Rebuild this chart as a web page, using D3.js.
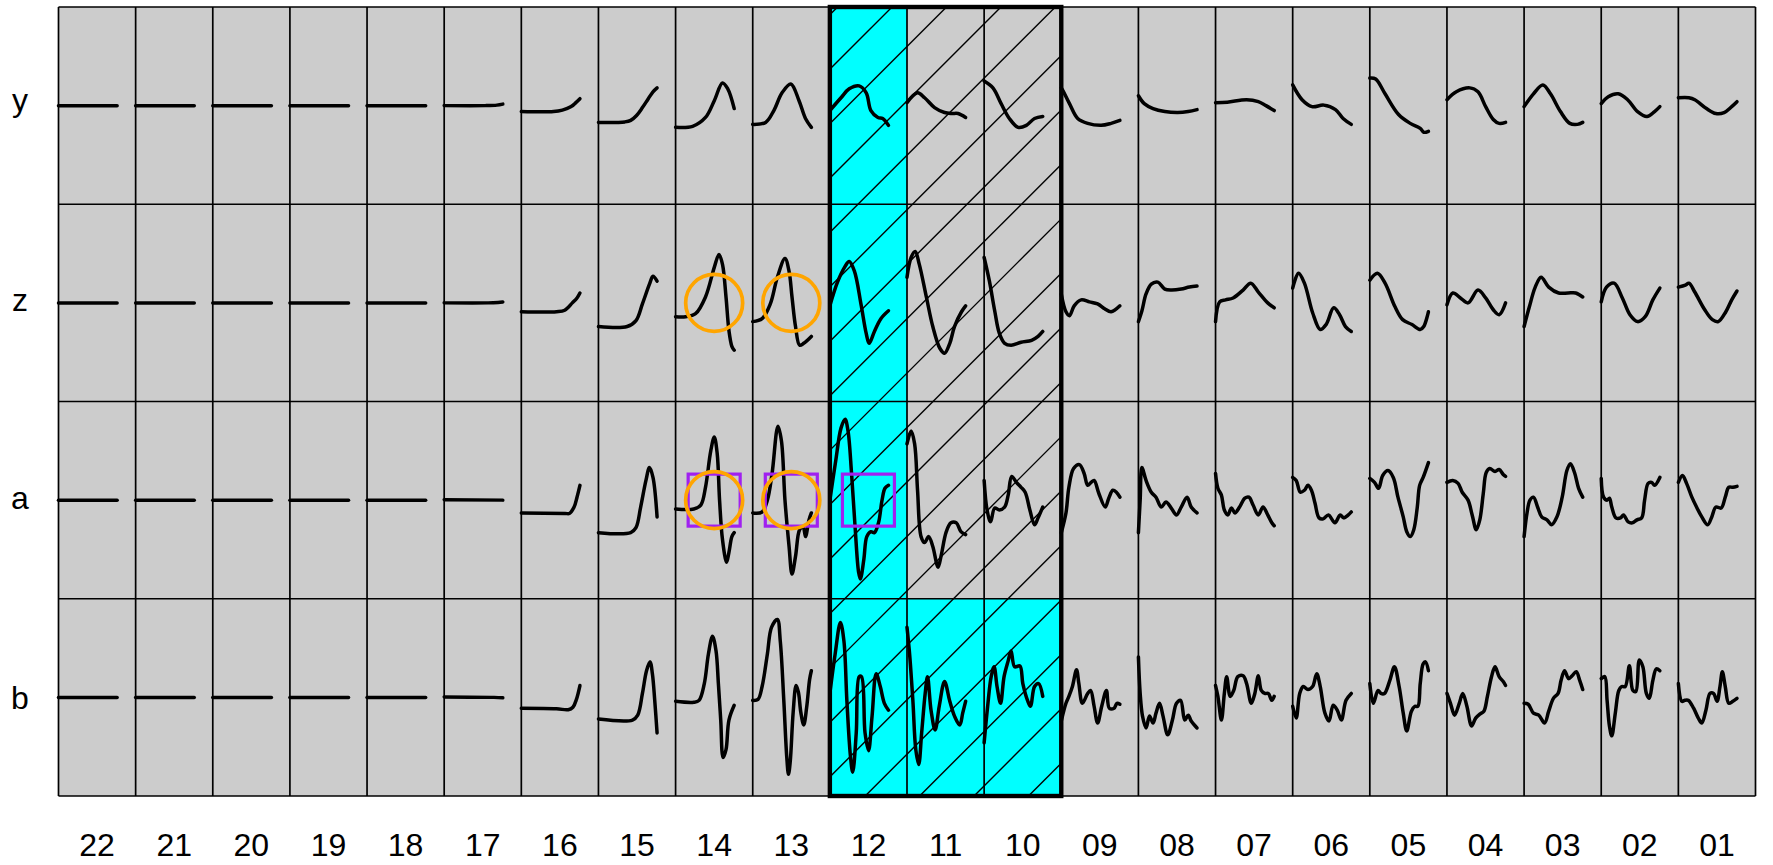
<!DOCTYPE html>
<html><head><meta charset="utf-8">
<script src="https://cdn.jsdelivr.net/npm/d3@7"></script>
<style>html,body{margin:0;padding:0;background:#fff;} svg{display:block}</style>
</head><body>
<svg id="chart" width="1773" height="865"></svg>
<script>
const columns = ["22","21","20","19","18","17","16","15","14","13","12","11","10","09","08","07","06","05","04","03","02","01"];
const rows = ["y","z","a","b"];

// each series: [time (0-100), value] pairs
const flat = [[0,0],[100,0]];
const seriesY = [
  flat, flat, flat, flat, flat,
  [[0,0],[70,0],[90,0.5],[100,1.5]],
  [[0,-6],[55,-6],[70,-4.5],[85,-1],[93,3],[100,7]],
  [[0,-17],[45,-16.5],[55,-15],[65,-10],[75,-2],[85,7],[93,14],[100,18]],
  [[0,-22],[29,-21],[51,-12],[66,5],[80,23],[89,17],[100,-3]],
  [[0,-19],[22,-17],[36,-5],[50,13],[65,22],[79,5],[90,-13],[100,-22]],
  [[0,-5],[19,8],[33,17],[50,20],[62,13],[70,-5],[82,-12],[90,-13],[100,-20]],
  [[0,3],[18,13],[30,8],[47,-2],[64,-7],[76,-8],[87,-8],[100,-12]],
  [[0,25],[15,18],[29,2],[43,-13],[58,-22],[72,-20],[86,-13],[100,-11]],
  [[0,18],[3,15],[14,2],[28,-13],[45,-18],[68,-20],[85,-18],[100,-15]],
  [[0,10],[10,2],[25,-3],[45,-6],[67,-7],[85,-6],[100,-4]],
  [[0,3],[20,3.5],[53,6],[73,4],[86,0],[100,-5]],
  [[0,21],[16,6],[33,-1],[53,0.5],[73,-4],[86,-13],[100,-19]],
  [[0,28],[10,27],[26,12],[49,-9],[69,-18],[86,-23],[92,-27],[100,-26]],
  [[0,6],[16,14],[39,18],[53,14],[66,-1],[79,-14],[89,-18],[100,-17]],
  [[0,-1],[16,12],[32,21],[45,12],[62,-6],[78,-18],[91,-19],[100,-17]],
  [[0,2],[12,9],[29,12],[45,6],[62,-6],[78,-11],[91,-6],[100,-1]],
  [[0,8],[18,8],[28,6],[48,-3],[64,-8],[78,-7],[91,-1],[100,4]]
];
const seriesZ = [
  flat, flat, flat, flat, flat,
  [[0,0],[75,0],[92,0.5],[100,1]],
  [[0,-9],[60,-9],[74,-7.5],[87,0],[95,5],[100,10]],
  [[0,-24],[49,-24],[64,-18],[75,-1],[87,19],[93,27],[100,22]],
  [[0,-14],[17,-14],[34,-11],[51,6],[66,36],[74,49],[80,39],[86,6],[91,-28],[96,-44],[100,-48]],
  [[0,-19],[16,-16],[30,-1],[42,26],[55,45],[62,32],[67,6],[73,-24],[80,-43],[87,-41],[100,-34]],
  [[0,-3],[13,21],[25,36],[33,42],[42,32],[53,-1],[62,-31],[67,-41],[76,-29],[87,-16],[100,-8]],
  [[0,26],[7,46],[14,52],[21,39],[33,6],[44,-24],[56,-46],[64,-51],[73,-41],[81,-24],[93,-9],[100,-3]],
  [[0,46],[9,22],[18,-8],[26,-31],[35,-41],[46,-43],[63,-40],[81,-38],[92,-34],[100,-29]],
  [[0,9],[8,-9],[14,-13],[22,-3],[34,3],[48,1],[62,-1],[74,-6],[85,-9],[100,-3]],
  [[0,-19],[6,-8],[13,9],[22,19],[33,21],[45,14],[56,13],[73,14],[87,16],[100,17]],
  [[0,-19],[7,1],[17,3],[30,5],[47,13],[60,20],[73,11],[89,0],[100,-5]],
  [[0,15],[10,30],[20,20],[34,-10],[47,-27],[57,-22],[70,-5],[80,-12],[90,-24],[100,-29]],
  [[0,23],[13,30],[26,20],[43,-4],[56,-17],[72,-22],[86,-27],[92,-24],[100,-9]],
  [[0,-2],[10,10],[23,5],[36,0],[53,13],[66,5],[79,-7],[89,-12],[100,0]],
  [[0,-24],[9,-4],[19,16],[29,26],[42,16],[59,10],[75,10],[88,10],[100,6]],
  [[0,1],[9,16],[22,20],[36,5],[49,-12],[62,-19],[75,-14],[88,3],[100,15]],
  [[0,16],[12,18],[18,20],[28,11],[45,-7],[58,-17],[68,-19],[81,-9],[91,3],[100,12]]
];
const seriesA = [
  flat, flat, flat, flat, flat,
  [[0,0.5],[100,0]],
  [[0,-13],[75,-13.5],[82,-13.5],[90,-7],[95,3],[100,15]],
  [[0,-33],[55,-33],[64,-28],[72,-7],[81,20],[87,33],[93,23],[100,-17]],
  [[0,-9],[31,-9],[43,-5],[51,13],[60,50],[66,64],[71,47],[75,0],[80,-40],[87,-63],[91,-53],[96,-37],[100,-33]],
  [[0,-13],[16,-12],[25,0],[33,27],[43,75],[49,60],[55,0],[62,-47],[67,-75],[73,-57],[80,-30],[86,-27],[90,-37],[96,-20],[100,-13]],
  [[0,0],[10,40],[19,73],[26,82],[31,70],[37,27],[43,-27],[49,-73],[52,-80],[58,-60],[63,-37],[70,-32],[76,-33],[83,-23],[89,0],[94,12],[100,15]],
  [[0,57],[7,70],[13,57],[18,10],[24,-37],[30,-43],[37,-37],[44,-47],[53,-68],[58,-57],[67,-32],[75,-23],[84,-23],[92,-32],[100,-35]],
  [[0,20],[5,-10],[11,-22],[18,-8],[26,-10],[35,-7],[41,5],[47,24],[55,18],[63,13],[70,8],[78,-10],[86,-25],[92,-18],[100,-7]],
  [[0,-33],[8,-13],[13,13],[21,32],[31,36],[39,27],[45,15],[51,18],[56,20],[64,7],[75,-7],[81,2],[88,10],[94,8],[100,3]],
  [[0,-33],[3,0],[6,33],[13,20],[22,8],[30,3],[39,-7],[47,-2],[56,-8],[65,-15],[73,-7],[83,3],[90,-7],[100,-13]],
  [[0,27],[4,12],[10,5],[15,-10],[21,-15],[27,-8],[33,-13],[41,-7],[50,2],[57,3],[64,-5],[73,-15],[81,-7],[89,-15],[96,-23],[100,-26]],
  [[0,23],[6,20],[13,8],[20,10],[26,15],[32,10],[38,-3],[45,-18],[52,-19],[61,-15],[72,-23],[81,-15],[87,-18],[95,-15],[100,-12]],
  [[0,22],[8,18],[15,12],[22,25],[31,30],[40,23],[48,3],[57,-17],[63,-32],[69,-37],[75,-30],[81,-7],[85,15],[91,23],[100,38]],
  [[0,18],[10,20],[19,17],[26,8],[36,0],[43,-15],[50,-30],[56,-20],[62,7],[67,28],[73,32],[82,29],[89,31],[96,26],[100,24]],
  [[0,-37],[5,-13],[10,0],[16,3],[23,-7],[30,-17],[39,-20],[47,-25],[56,-17],[65,3],[73,30],[79,37],[86,28],[93,12],[100,3]],
  [[0,22],[4,3],[10,0],[14,2],[18,-7],[25,-18],[33,-18],[38,-15],[46,-22],[53,-23],[61,-20],[69,-18],[74,0],[80,17],[86,18],[91,15],[100,23]],
  [[0,18],[7,25],[14,17],[23,3],[31,-7],[40,-17],[50,-25],[57,-17],[64,-7],[73,-8],[80,3],[86,13],[93,13],[100,14]]
];
const seriesB = [
  flat, flat, flat, flat, flat,
  [[0,0.5],[85,0],[100,-0.5]],
  [[0,-11],[60,-11.5],[80,-12.5],[88,-10],[94,-2],[100,12]],
  [[0,-22],[58,-23],[67,-18],[75,4],[82,27],[88,36],[92,24],[96,-3],[100,-36]],
  [[0,-4],[31,-5],[40,-3],[49,14],[56,44],[63,62],[69,47],[73,14],[77,-23],[81,-61],[86,-53],[91,-23],[100,-8]],
  [[0,-3],[9,-2],[16,11],[25,44],[32,71],[42,79],[47,57],[53,-3],[58,-60],[61,-78],[64,-65],[69,-15],[74,12],[78,5],[82,-15],[87,-28],[92,-10],[97,18],[100,27]],
  [[0,4],[9,44],[18,76],[24,57],[29,-3],[35,-59],[39,-76],[45,-36],[50,21],[54,21],[60,-36],[66,-54],[72,-19],[79,24],[86,11],[93,-6],[100,-13]],
  [[0,71],[4,47],[10,-3],[15,-53],[20,-68],[25,-36],[31,4],[35,21],[41,-13],[48,-33],[55,-9],[64,16],[73,-4],[81,-19],[90,-28],[95,-16],[100,-4]],
  [[0,-46],[6,-9],[12,21],[17,31],[22,11],[28,-6],[34,21],[41,37],[46,47],[52,31],[61,32],[66,14],[74,-3],[79,-9],[86,11],[93,14],[100,1]],
  [[0,-24],[8,-6],[13,1],[19,11],[26,28],[30,14],[36,-6],[45,4],[50,7],[56,-9],[62,-26],[69,-9],[77,7],[82,-11],[90,-11],[95,-6],[100,-7]],
  [[0,41],[3,4],[7,-19],[13,-31],[19,-19],[25,-26],[30,-16],[36,-6],[42,-19],[50,-38],[58,-23],[65,-6],[72,-3],[79,-23],[85,-18],[90,-24],[100,-31]],
  [[0,12],[4,1],[10,-23],[15,4],[19,21],[25,1],[31,7],[38,21],[47,22],[53,14],[61,-6],[67,4],[73,22],[78,7],[84,4],[90,4],[96,-3],[100,1]],
  [[0,-9],[6,-21],[12,4],[18,11],[26,8],[34,11],[41,24],[47,11],[55,-16],[62,-24],[69,-8],[76,-13],[83,-23],[91,-3],[100,4]],
  [[0,14],[6,-6],[14,7],[19,4],[25,4],[34,17],[42,31],[50,11],[57,-16],[63,-34],[71,-14],[77,-9],[82,-9],[86,14],[91,34],[95,36],[100,27]],
  [[0,4],[6,-6],[13,-18],[21,-6],[27,4],[34,-9],[42,-29],[49,-21],[56,-17],[63,-14],[69,1],[76,21],[82,31],[89,21],[96,16],[100,12]],
  [[0,-6],[7,-7],[16,-16],[25,-18],[35,-26],[42,-14],[50,-1],[58,4],[63,17],[69,27],[76,19],[82,22],[89,26],[95,17],[100,8]],
  [[0,19],[6,21],[10,-3],[14,-29],[18,-39],[24,-16],[30,7],[35,11],[41,11],[48,32],[54,7],[59,6],[65,38],[71,31],[77,4],[82,-1],[88,17],[94,29],[100,27]],
  [[0,14],[6,-4],[11,-3],[17,-3],[26,-11],[34,-21],[40,-26],[47,-13],[54,4],[60,4],[66,-4],[71,11],[75,26],[80,11],[86,-6],[93,-4],[100,-1]]
];
const seriesByRow = {y: seriesY, z: seriesZ, a: seriesA, b: seriesB};

const cyanCells = [["12","y"],["12","z"],["12","a"],["12","b"],["11","b"],["10","b"]];
const hatchColumns = ["12","11","10"];
const circleCells = [["14","z"],["13","z"],["14","a"],["13","a"]];
const squareCells = [["14","a"],["13","a"],["12","a"]];

// ---------- layout ----------
const svg = d3.select("#chart");
const x = d3.scaleBand().domain(columns).range([58.5, 1755.5]);
const yb = d3.scaleBand().domain(rows).range([7, 796]);
const cw = x.bandwidth(), rh = yb.bandwidth();
const FONT = "Liberation Sans, Arial, Helvetica, sans-serif";

const cells = [];
rows.forEach(r => columns.forEach(c => cells.push({c, r})));
const isCyan = (c, r) => cyanCells.some(d => d[0] === c && d[1] === r);

// cell fills
svg.append("g").selectAll("rect").data(cells).join("rect")
  .attr("x", d => x(d.c)).attr("y", d => yb(d.r))
  .attr("width", cw).attr("height", rh)
  .attr("fill", d => isCyan(d.c, d.r) ? "#00FFFF" : "#CCCCCC");

// hatch over the highlighted block
const hx0 = d3.min(hatchColumns, c => x(c)), hx1 = d3.max(hatchColumns, c => x(c) + cw);
const hy0 = yb.range()[0], hy1 = yb.range()[1];
svg.append("clipPath").attr("id", "hclip").append("rect")
  .attr("x", hx0).attr("y", hy0).attr("width", hx1 - hx0).attr("height", hy1 - hy0);
const spacing = 54.44, phase = 28;
const kMin = Math.floor((hx0 + hy0 - phase) / spacing) - 1;
const kMax = Math.ceil((hx1 + hy1 - phase) / spacing) + 1;
svg.append("g").attr("clip-path", "url(#hclip)").selectAll("line")
  .data(d3.range(kMin, kMax + 1)).join("line")
  .attr("x1", k => phase + k * spacing - hy0).attr("y1", hy0)
  .attr("x2", k => phase + k * spacing - hy1).attr("y2", hy1)
  .attr("stroke", "#000").attr("stroke-width", 1.4);

// grid lines
const grid = svg.append("g").attr("stroke", "#000").attr("stroke-width", 1.7);
x.domain().concat(["__end"]).forEach((c, i) => {
  const xx = i < columns.length ? x(c) : x.range()[1];
  grid.append("line").attr("x1", xx).attr("x2", xx).attr("y1", hy0).attr("y2", hy1);
});
rows.concat(["__end"]).forEach((r, i) => {
  const yy = i < rows.length ? yb(r) : yb.range()[1];
  grid.append("line").attr("x1", x.range()[0]).attr("x2", x.range()[1]).attr("y1", yy).attr("y2", yy);
});

// sparklines
const lines = svg.append("g").attr("fill", "none").attr("stroke", "#000")
  .attr("stroke-width", 3.5).attr("stroke-linecap", "round").attr("stroke-linejoin", "round");
rows.forEach(r => {
  seriesByRow[r].forEach((s, i) => {
    const c = columns[i];
    const tx = d3.scaleLinear().domain([0, 100]).range([x(c), x(c) + 0.76 * cw]);
    const vy = d3.scaleLinear().domain([-100, 100]).range([yb(r) + rh, yb(r)]);
    const gen = d3.line().x(d => tx(d[0])).y(d => vy(d[1])).curve(d3.curveCatmullRom.alpha(0.5));
    lines.append("path").attr("d", gen(s));
  });
});

// purple squares
const sq = 52;
svg.append("g").selectAll("rect").data(squareCells).join("rect")
  .attr("x", d => x(d[0]) + cw / 2 - sq / 2).attr("y", d => yb(d[1]) + rh / 2 - sq / 2)
  .attr("width", sq).attr("height", sq)
  .attr("fill", "none").attr("stroke", "#A020F0").attr("stroke-width", 3.2);

// orange circles
svg.append("g").selectAll("circle").data(circleCells).join("circle")
  .attr("cx", d => x(d[0]) + cw / 2).attr("cy", d => yb(d[1]) + rh / 2)
  .attr("r", 28.5).attr("fill", "none").attr("stroke", "#FFA500").attr("stroke-width", 3.7);

// thick border around the highlighted columns
svg.append("rect").attr("x", hx0).attr("y", hy0).attr("width", hx1 - hx0).attr("height", hy1 - hy0)
  .attr("fill", "none").attr("stroke", "#000").attr("stroke-width", 4.4);

// labels
const ctx = document.createElement("canvas").getContext("2d");
ctx.font = "32px " + FONT;
svg.append("g").selectAll("text").data(rows).join("text")
  .attr("x", 20)
  .attr("y", r => {
    const m = ctx.measureText(r);
    return yb(r) + rh / 2 + (m.actualBoundingBoxAscent - m.actualBoundingBoxDescent) / 2;
  })
  .attr("text-anchor", "middle").attr("font-family", FONT).attr("font-size", 32)
  .text(r => r);
svg.append("g").selectAll("text").data(columns).join("text")
  .attr("x", c => x(c) + cw / 2).attr("y", 856)
  .attr("text-anchor", "middle").attr("font-family", FONT).attr("font-size", 32)
  .text(c => c);
</script>
</body></html>
